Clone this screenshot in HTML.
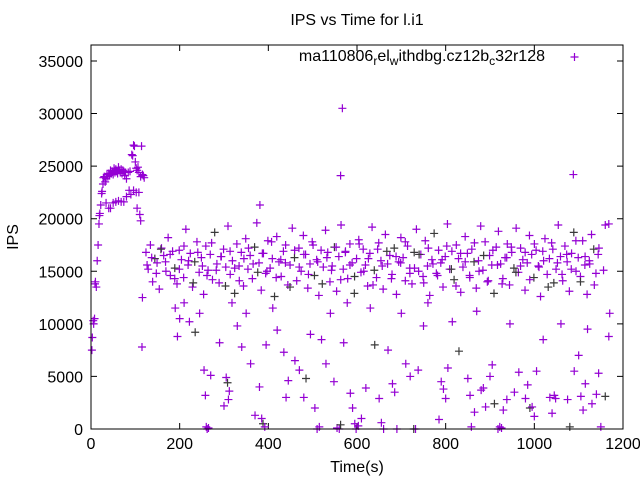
<!DOCTYPE html>
<html><head><meta charset="utf-8"><style>
html,body{margin:0;padding:0;background:#fff;}
svg{display:block;font-family:"Liberation Sans",sans-serif;}
</style></head><body>
<svg id="chart" width="640" height="480" viewBox="0 0 640 480" xmlns="http://www.w3.org/2000/svg">
<rect width="640" height="480" fill="#fff"/>
<text x="357" y="25" font-size="16" text-anchor="middle">IPS vs Time for l.i1</text>
<text x="18" y="237" font-size="16" text-anchor="middle" transform="rotate(-90 18 237)">IPS</text>
<text x="357" y="472" font-size="16" text-anchor="middle">Time(s)</text>
<g id="ticks"></g>
<g id="marks"></g>
<rect x="91" y="45" width="532" height="384" fill="none" stroke="#000" stroke-width="1"/>
<g>
<text x="545" y="61" font-size="16" text-anchor="end">ma110806<tspan dy="4" font-size="12">r</tspan><tspan dy="-4">el</tspan><tspan dy="4" font-size="12">w</tspan><tspan dy="-4">ithdbg.cz12b</tspan><tspan dy="4" font-size="12">c</tspan><tspan dy="-4">32r128</tspan></text>
<path d="M570.5 57h8M574.5 53v8" stroke="#9400d3" stroke-width="1.2"/>
</g>
</svg>
<script>
const xTicks=[0,200,400,600,800,1000,1200];
const yTicks=[0,5000,10000,15000,20000,25000,30000,35000];
const earlyT=[2,3,5,6,8,9,10,12,14,16,18,19,20,22,24,25,27,28,30,32,34,36,38,40,42,44,46,48,50,52,54,56,58,60,62,64,66,68,70,72,74,76,78,80,84,88,92,94,96,98,100,102,104,106,108,112,114,116,118,120,34,40,44,50,56,62,68,74,80,86,90,96,102,104,108,110,112,115,116];
const earlyV=[7500,8700,10300,10000,10500,13800,14000,13500,16000,17500,19500,20300,20500,21300,22400,22600,23300,23900,24000,23500,23800,24200,24000,24300,24100,24600,24300,24500,24200,24800,24400,24700,24500,24300,24900,24600,24400,24700,24300,24600,24500,24100,24400,23800,24400,24500,26100,26000,27000,26900,25400,24800,24600,24900,24400,24000,26900,24200,24100,23900,21500,21000,21000,21500,21600,21700,21600,21600,22100,22700,22300,22700,22500,21000,22500,20400,19800,7800,12500];
const bandV=[16800,15200,17500,14000,16200,15800,13300,17200,16500,15000,18200,14600,16900,15300,13800,17000,16100,14400,19000,15600,16700,13500,15900,17800,14900,16300,12800,17400,15100,16600,14200,18700,15700,13900,16400,17100,15400,19300,14700,16000,12900,17600,15500,16800,13600,18100,15200,16500,14300,17300,19600,15800,13200,16700,14800,17900,15300,16200,12600,18300,15900,14500,16900,17500,13700,15600,19100,16300,14100,17200,15000,18400,16600,13400,15700,17800,14600,16100,12700,17000,15400,18900,16800,14000,15500,17300,13100,16400,19400,15200,16900,14300,17600,15800,12900,16200,18000,14900,17100,15600,13600,16700,19200,15100,14400,17700,16000,13300,18500,15700,16500,14700,17200,12800,15900,18200,16300,14100,17400,15300,13800,16800,19000,15000,16600,14500,17900,15500,12700,16100,18600,14800,17000,15800,13500,16400,19500,15200,16900,14200,17500,16200,13000,15400,18300,16700,14600,17100,15900,13400,16000,19300,15100,17800,14000,16500,15600,12900,17300,18800,15700,14300,16300,17600,13700,16800,15300,19100,14900,17200,16100,13200,15800,18400,16600,14400,17000,15500,12600,16900,18100,14700,16200,17700,13900,15200,19400,16400,14100,17400,15900,13100,16700,18700,15000,16300,14500,17900,15600,12800,16000,18500,17100,14800,16600];
const bandV2=[15600,16300,14800,17100,15900,16600,14300,15200,17400,16000,13900,16800,15500,14600,17700,15100,16400,13600,16900,15300,14100,16200,17200,15700,14900,16700,15000,17800,14400,16100,15800,13500,17000,15400,16600,14700,17500,15900,13800,16300,15100,17300,14200,16800,15600,14500,17600,15000,16200,13700,17100,15500,16900,14300,16400,15800,17800,14800,15300,16600,13900,17200,15700,14600,16100,17400,15200,13600,16700,15900,14400,17700,15000,16500,14100,17000,15600,13800,16300,17300,14900,15500,16800,14200,17600,15400,16000,13500,17100,15800,14700,16600,15200,17900,14000,16400,15700,13700,17200,15100];
const lowT=[190,195,200,210,222,235,245,255,258,260,262,265,270,290,300,305,308,310,312,318,330,340,350,360,370,380,385,388,392,395,410,420,435,440,445,460,470,480,485,495,505,510,515,520,530,540,548,555,560,563,570,578,585,590,595,598,603,610,620,630,640,650,655,660,670,680,685,690,700,710,720,728,732,738,750,760,785,790,795,800,805,815,830,850,855,858,865,870,880,885,890,900,905,910,918,922,926,930,938,945,955,965,980,985,990,995,1000,1005,1020,1035,1040,1045,1048,1060,1075,1080,1090,1100,1105,1110,1115,1120,1130,1140,1145,1150,1160,1168,1170,567,563,1088,381,1160,1168];
const lowV=[11500,8800,10500,12000,10200,9200,11000,5600,3200,200,0,100,5100,8200,2200,4900,4400,2800,3600,12000,9800,7800,11000,6200,1300,4000,1000,500,200,8000,11500,9400,7300,3000,4600,6500,5600,3000,4800,9000,2000,0,200,8500,6200,11000,4500,100,0,400,8200,12000,3400,2000,500,0,300,1000,3900,11500,8000,2900,600,0,7500,4300,3500,0,11000,6200,5000,0,0,5600,9800,12000,900,4500,3800,2900,5800,10200,7400,4800,3200,200,1600,11200,3700,3900,2100,5000,6100,2400,0,200,100,1800,2800,10000,3500,5400,2900,4200,2000,2100,1200,5500,8500,3000,1500,3200,2900,10000,2800,200,5500,7000,3100,1800,4300,9500,2400,3300,5300,200,3100,8800,11000,30500,24100,24200,21300,19400,19500];
const X0=91,X1=623,Y0=429,YTOP=45,XMAX=1200,YMAX=36520;
const sx=v=>X0+(v/XMAX)*(X1-X0);
const sy=v=>Y0-(v/YMAX)*(Y0-YTOP);
const NS="http://www.w3.org/2000/svg";
const tg=document.getElementById('ticks');
xTicks.forEach(t=>{
  const x=sx(t);
  const p=document.createElementNS(NS,'path');
  p.setAttribute('d',`M${x} ${Y0}v-6M${x} ${YTOP}v6`);
  p.setAttribute('stroke','#000');
  
  
  tg.appendChild(p);
  const tx=document.createElementNS(NS,'text');
  tx.setAttribute('x',x);tx.setAttribute('y',Y0+20);
  tx.setAttribute('font-size','16');tx.setAttribute('text-anchor','middle');
  
  
  tx.textContent=t;tg.appendChild(tx);
});
yTicks.forEach(t=>{
  const y=sy(t);
  const p=document.createElementNS(NS,'path');
  p.setAttribute('d',`M${X0} ${y}h6M${X1} ${y}h-6`);
  p.setAttribute('stroke','#000');
  
  
  tg.appendChild(p);
  const tx=document.createElementNS(NS,'text');
  tx.setAttribute('x',X0-8);tx.setAttribute('y',y+6);
  tx.setAttribute('font-size','16');tx.setAttribute('text-anchor','end');
  
  
  tx.textContent=t;tg.appendChild(tx);
});
const mg=document.getElementById('marks');
function plus(t,v,dark){
  const x=sx(t),y=sy(v);
  const p=document.createElementNS(NS,'path');
  p.setAttribute('d',`M${x-4} ${y}h8M${x} ${y-4}v8`);
  p.setAttribute('stroke',dark?'#3a3a3a':'#9400d3');
  p.setAttribute('stroke-width','1.2');
  
  
  mg.appendChild(p);
}
earlyT.forEach((t,i)=>plus(t,earlyV[i],false));
bandV.forEach((v,i)=>plus(124+5*i,v,i%9===4));
bandV2.forEach((v,i)=>plus(126.5+10.4*i,v,i%7===3));
lowT.forEach((t,i)=>plus(t,lowV[i],i%11===5));
</script>
</body></html>
